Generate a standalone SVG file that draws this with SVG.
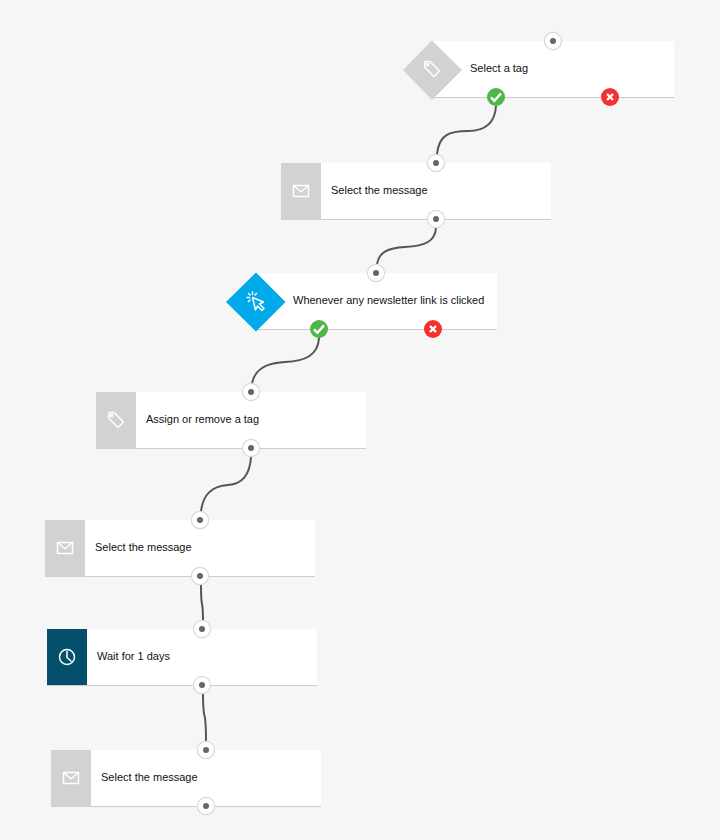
<svg xmlns="http://www.w3.org/2000/svg" width="720" height="840" viewBox="0 0 720 840">
<style>
.card{fill:#fff}
.base{stroke:#cccccc;stroke-width:1;fill:none}
.ico{fill:#d2d2d2}
.lbl{font-family:"Liberation Sans",Arial,sans-serif;font-size:11px;fill:#111}
.ring{fill:#fff;stroke:#d8d8d8;stroke-width:1.2}
.dot{fill:#666}
.conn{fill:none;stroke:#555;stroke-width:2}
.g{fill:#4fb648}.r{fill:#f5302e}
.wl{fill:none;stroke:#fff;stroke-width:1.5;stroke-linejoin:round;stroke-linecap:round}
.chk{fill:none;stroke:#fff;stroke-width:2.4}
.x{fill:none;stroke:#fff;stroke-width:2.4}
</style>
<defs>
<g id="port"><circle class="ring" r="8.6"/><circle class="dot" r="3"/></g>
<g id="yes"><circle class="g" r="9"/><path class="chk" d="M-5 0.3L-1.6 3.8L5 -3.6"/></g>
<g id="no"><circle class="r" r="9"/><path class="x" d="M-3 -3L3 3M3 -3L-3 3"/></g>
<g id="mail"><rect class="wl" x="-7.500" y="-5.500" width="15" height="11"/><path class="wl" d="M-7.500 -5.500L0 0.800L7.500 -5.500"/></g>
<g id="tag"><path class="wl" d="M-7 -7.500L-2 -7.500L7.500 2L2 7.500L-7.500 -2Z"/><circle class="wl" cx="-4.400" cy="-4.400" r="1.100"/></g>
</defs>
<rect width="720" height="840" fill="#f6f6f6"/>
<g id="connectors">
<path class="conn" d="M496 106C495 122 487 131 468 131C449 131 439 135 437 154"/>
<path class="conn" d="M436 228C435 241 426 246 405 247C388 248 379 252 377 264"/>
<path class="conn" d="M319 338C318 355 306 361 285 362C266 363 255 369 252 383"/>
<path class="conn" d="M251 457C250 474 243 484 228 485C210 486 203 496 201 511"/>
<path class="conn" d="M201 585C201 594 201 600 202 604C203 609 203 614 203 620"/>
<path class="conn" d="M203 694C203 703 203 712 205 718C206 726 206 733 206 741"/>
</g>
<g id="node-1">
<rect class="card" x="432" y="41" width="242" height="56"/><path class="base" d="M432 97.500H674"/>
<path class="ico" d="M432 40.500L462 70L432 100L403 70Z"/>
<use href="#tag" x="432" y="69"/>
<text class="lbl" x="470" y="72">Select a tag</text>
<use href="#port" x="553" y="41"/><use href="#yes" x="496" y="97"/><use href="#no" x="610" y="97"/>
</g>
<g id="node-2">
<rect class="card" x="281" y="163" width="270" height="56"/><path class="base" d="M281 219.500H551"/>
<rect class="ico" x="281" y="163" width="40" height="56.500"/>
<use href="#mail" x="301" y="191"/>
<text class="lbl" x="331" y="194">Select the message</text>
<use href="#port" x="436" y="163"/><use href="#port" x="436" y="219"/>
</g>
<g id="node-3">
<rect class="card" x="256" y="273" width="241" height="56"/><path class="base" d="M256 329.500H497"/>
<path d="M256 272.500L285.500 302L256 331.500L226 302Z" fill="#00a9e8"/>
<g class="wl" transform="translate(252.500 297.500)">
<path d="M0 0L11 4.500L7 6.500L11.500 11L9.500 13L5 8.500L3 12.500Z"/>
<path d="M0 -5.500V-3M-4 -4L-2.500 -2.500M-5.500 0H-3M-4 4L-2.500 2.500M4 -4L2.500 -2.500"/>
</g>
<text class="lbl" x="293" y="304">Whenever any newsletter link is clicked</text>
<use href="#port" x="376" y="273"/><use href="#yes" x="319" y="329"/><use href="#no" x="433" y="329"/>
</g>
<g id="node-4">
<rect class="card" x="96" y="392" width="270" height="56"/><path class="base" d="M96 448.500H366"/>
<rect class="ico" x="96" y="392" width="40" height="56.500"/>
<use href="#tag" x="116" y="420"/>
<text class="lbl" x="146" y="423">Assign or remove a tag</text>
<use href="#port" x="251" y="392"/><use href="#port" x="251" y="448"/>
</g>
<g id="node-5">
<rect class="card" x="45" y="520" width="270" height="56"/><path class="base" d="M45 576.500H315"/>
<rect class="ico" x="45" y="520" width="40" height="56.500"/>
<use href="#mail" x="65" y="548"/>
<text class="lbl" x="95" y="551">Select the message</text>
<use href="#port" x="200" y="520"/><use href="#port" x="200" y="576"/>
</g>
<g id="node-6">
<rect class="card" x="47" y="629" width="270" height="56"/><path class="base" d="M47 685.500H317"/>
<rect x="47" y="629" width="40" height="56" fill="#04506c"/>
<circle class="wl" cx="67" cy="657" r="7.500"/><path class="wl" d="M67 651.500V657.500L71 661"/>
<text class="lbl" x="97" y="660">Wait for 1 days</text>
<use href="#port" x="202" y="629"/><use href="#port" x="202" y="685"/>
</g>
<g id="node-7">
<rect class="card" x="51" y="750" width="270" height="56"/><path class="base" d="M51 806.500H321"/>
<rect class="ico" x="51" y="750" width="40" height="56.500"/>
<use href="#mail" x="71" y="778"/>
<text class="lbl" x="101" y="781">Select the message</text>
<use href="#port" x="206" y="750"/><use href="#port" x="206" y="806"/>
</g>
</svg>
